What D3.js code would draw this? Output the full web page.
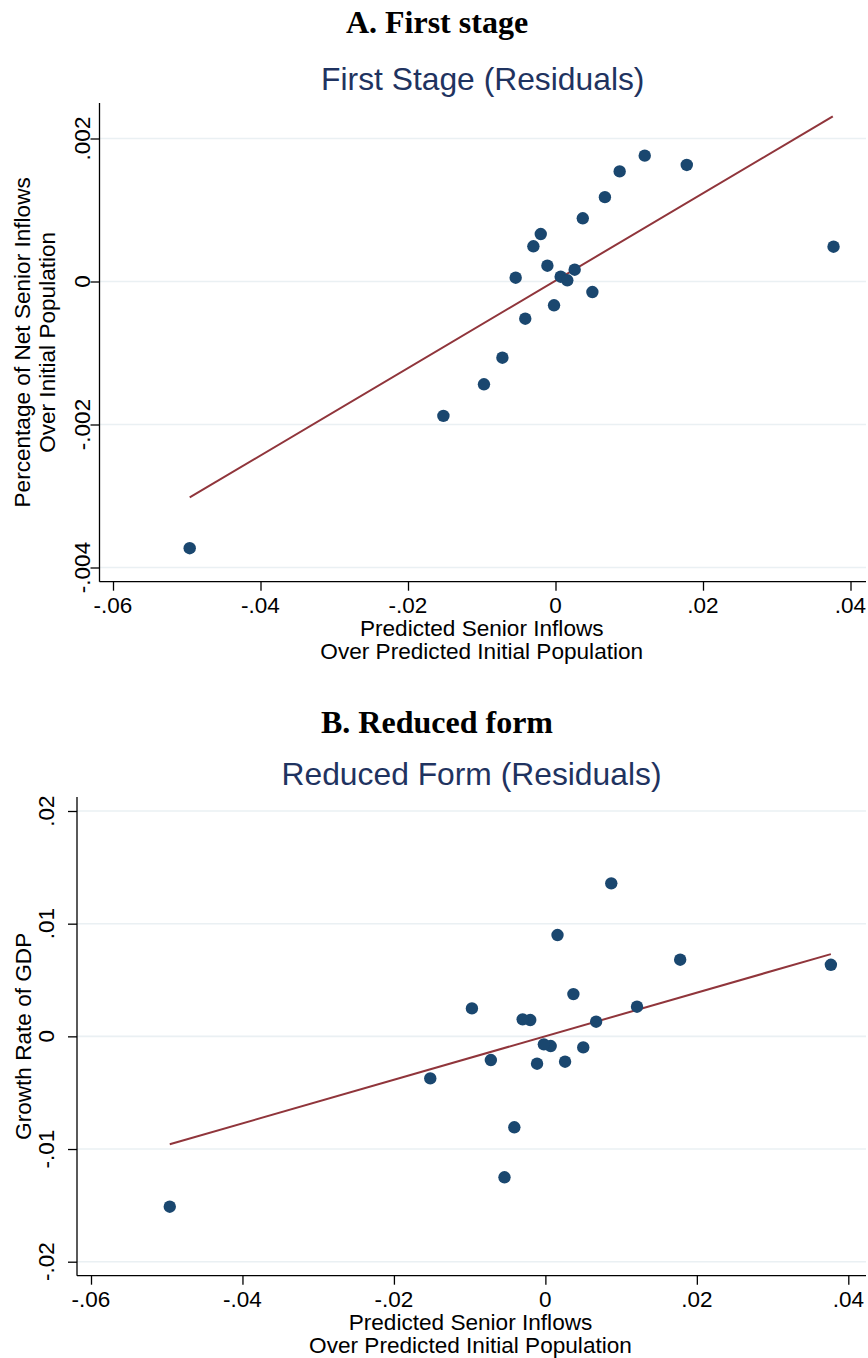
<!DOCTYPE html>
<html>
<head>
<meta charset="utf-8">
<script src="https://cdn.jsdelivr.net/npm/d3@7"></script>
<style>
html,body{margin:0;padding:0;background:#fff;}
svg{display:block;}
</style>
</head>
<body>
<svg id="chart" width="868" height="1358"></svg>
<script>
// ---- Data ----
const predictedInflows = [0.0121, 0.0178, 0.0087, 0.0067, 0.0037, -0.0020, -0.0030, 0.0377, -0.0011, -0.0054,
                          0.0026, 0.0007, 0.0016, 0.0050, -0.0002, -0.0041, -0.0072, -0.0152, -0.0097, -0.0496];
const netSeniorInflows = [0.00176, 0.00163, 0.00154, 0.00118, 0.000884, 0.000664, 0.000492, 0.000487, 0.000221, 0.000053,
                          0.000165, 0.000067, 0.000017, -0.000147, -0.000333, -0.00052, -0.001066, -0.00188, -0.001438, -0.00373];
const gdpGrowth = [0.00263, 0.0068, 0.01358, 0.0013, 0.00375, 0.00145, 0.00151, 0.00635, -0.00243, -0.01251,
                   -0.00225, -0.00086, 0.00899, -0.00098, -0.00071, -0.00807, -0.0021, -0.00373, 0.00248, -0.01512];
const fitFirstStageX = [-0.0496, 0.0376];
const fitFirstStageY = [-0.00302, 0.00231];
const fitReducedX = [-0.0496, 0.0377];
const fitReducedY = [-0.00958, 0.0073];
const xTicks = [-0.06, -0.04, -0.02, 0, 0.02, 0.04];
const yTicksA = [-0.004, -0.002, 0, 0.002];
const yTicksB = [-0.02, -0.01, 0, 0.01, 0.02];
const panelTitles = ["A. First stage", "B. Reduced form"];
const chartTitles = ["First Stage (Residuals)", "Reduced Form (Residuals)"];
const yTitlesA = ["Percentage of Net Senior Inflows", "Over Initial Population"];
const yTitlesB = ["Growth Rate of GDP"];
const xTitles = ["Predicted Senior Inflows", "Over Predicted Initial Population"];

const fmt = v => {
  if (v === 0) return "0";
  let s = String(+v.toFixed(4));
  return s.replace(/^(-?)0\./, "$1.");
};

const svg = d3.select("#chart");
const SANS = "'Liberation Sans', Arial, sans-serif";
const SERIF = "'Liberation Serif', 'Times New Roman', serif";
const NAVY = "#1a476f";
const MAROON = "#90353b";
const GRID = "#eaf0f3";
const TITLE = "#1f3360";

function panel(cfg) {
  const g = svg.append("g");
  const x = d3.scaleLinear().domain([-0.06, 0.04]).range([cfg.x06, cfg.x04]);
  x.domain([x.invert(cfg.left), x.invert(cfg.right)]).range([cfg.left, cfg.right]);
  const y = d3.scaleLinear().domain([cfg.yLoTick, cfg.yHiTick]).range([cfg.yLoPx, cfg.yHiPx]);
  y.domain([y.invert(cfg.bottom), y.invert(cfg.top)]).range([cfg.bottom, cfg.top]);

  // gridlines
  g.append("g").selectAll("line").data(cfg.yTicks).join("line")
    .attr("x1", cfg.left).attr("x2", cfg.right)
    .attr("y1", d => y(d)).attr("y2", d => y(d))
    .attr("stroke", GRID).attr("stroke-width", 1.6);

  // y axis
  const ya = g.append("g").attr("transform", `translate(${cfg.left},0)`)
    .call(d3.axisLeft(y).tickValues(cfg.yTicks).tickSize(9).tickFormat(""));
  ya.select(".domain").attr("d", `M0,${cfg.top}V${cfg.bottom}`).attr("stroke", "#000").attr("stroke-width", 1.3);
  ya.selectAll(".tick line").attr("stroke", "#000").attr("stroke-width", 1.3);
  g.append("g").selectAll("text").data(cfg.yTicks).join("text")
    .attr("transform", d => `translate(${cfg.yLabelX},${y(d)}) rotate(-90)`)
    .attr("text-anchor", "middle")
    .attr("font-family", SANS).attr("font-size", 22.5).attr("fill", "#000")
    .text(fmt);

  // x axis
  const xa = g.append("g").attr("transform", `translate(0,${cfg.bottom})`)
    .call(d3.axisBottom(x).tickValues(xTicks).tickSize(9).tickFormat(""));
  xa.select(".domain").attr("d", `M${cfg.left},0H${cfg.right}`).attr("stroke", "#000").attr("stroke-width", 1.3);
  xa.selectAll(".tick line").attr("stroke", "#000").attr("stroke-width", 1.3);
  g.append("g").selectAll("text").data(xTicks).join("text")
    .attr("x", d => x(d)).attr("y", cfg.bottom + 31)
    .attr("text-anchor", "middle")
    .attr("font-family", SANS).attr("font-size", 22.5).attr("fill", "#000")
    .text(fmt);

  // axis titles
  const cx = (cfg.left + cfg.right) / 2;
  xTitles.forEach((t, i) => {
    g.append("text").attr("x", cx - 1).attr("y", cfg.bottom + 54 + i * 23)
      .attr("text-anchor", "middle").attr("font-family", SANS).attr("font-size", 22.6)
      .attr("fill", "#000").text(t);
  });
  const cy = (cfg.top + cfg.bottom) / 2;
  cfg.yTitles.forEach((t, i) => {
    g.append("text").attr("transform", `translate(${cfg.yTitleX[i]},${cy}) rotate(-90)`)
      .attr("text-anchor", "middle").attr("font-family", SANS).attr("font-size", 22.6)
      .attr("fill", "#000").text(t);
  });

  // titles
  g.append("text").attr("x", 437).attr("y", cfg.panelTitleY)
    .attr("text-anchor", "middle").attr("font-family", SERIF).attr("font-weight", "bold")
    .attr("font-size", 32).attr("fill", "#000").text(cfg.panelTitle);
  g.append("text").attr("x", cx).attr("y", cfg.chartTitleY)
    .attr("text-anchor", "middle").attr("font-family", SANS)
    .attr("font-size", 31.8).attr("fill", TITLE).text(cfg.chartTitle);

  // fit line
  const line = d3.line().x(d => x(d[0])).y(d => y(d[1]));
  g.append("path").datum(d3.zip(cfg.fitX, cfg.fitY)).attr("d", line)
    .attr("fill", "none").attr("stroke", MAROON).attr("stroke-width", 2);

  // points
  g.append("g").selectAll("circle").data(d3.zip(predictedInflows, cfg.yVals)).join("circle")
    .attr("cx", d => x(d[0])).attr("cy", d => y(d[1])).attr("r", 6.2)
    .attr("fill", NAVY);
}

panel({
  left: 99.5, right: 866, top: 103, bottom: 581.7,
  x06: 113, x04: 850.5,
  yLoTick: -0.004, yHiTick: 0.002, yLoPx: 567.5, yHiPx: 138.5,
  yTicks: yTicksA, yLabelX: 90, yTitles: yTitlesA, yTitleX: [30, 55],
  yVals: netSeniorInflows, fitX: fitFirstStageX, fitY: fitFirstStageY,
  panelTitle: panelTitles[0], chartTitle: chartTitles[0], panelTitleY: 33, chartTitleY: 90
});
panel({
  left: 77, right: 866, top: 797, bottom: 1275.7,
  x06: 91, x04: 848.3,
  yLoTick: -0.02, yHiTick: 0.02, yLoPx: 1261.7, yHiPx: 811,
  yTicks: yTicksB, yLabelX: 54, yTitles: yTitlesB, yTitleX: [31],
  yVals: gdpGrowth, fitX: fitReducedX, fitY: fitReducedY,
  panelTitle: panelTitles[1], chartTitle: chartTitles[1], panelTitleY: 733, chartTitleY: 785
});
</script>
</body>
</html>
